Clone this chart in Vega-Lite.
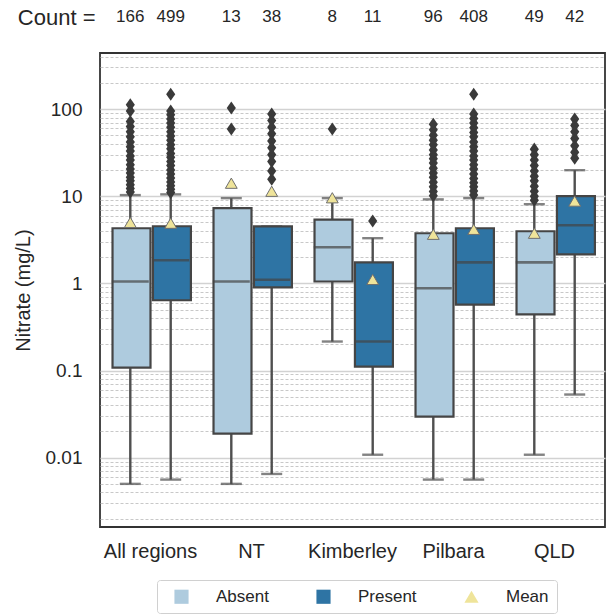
{
  "$schema": "https://vega.github.io/schema/vega-lite/v6.json",
  "padding": {"left": 12, "top": 6, "right": 0, "bottom": 0},
  "background": "white",
  "config": {
    "font": "Liberation Sans",
    "view": {"stroke": "#333333", "strokeWidth": 1.8},
    "axis": {"labelFont": "Liberation Sans", "titleFont": "Liberation Sans", "labelColor": "#262626", "titleColor": "#262626", "labelFontSize": 19, "titleFontSize": 20, "titleFontWeight": "normal", "ticks": false, "domain": false},
    "legend": {"labelFont": "Liberation Sans", "labelFontSize": 17, "labelColor": "#262626", "orient": "none", "legendX": 57, "legendY": 573, "direction": "horizontal", "columns": 3, "strokeColor": "#d0d0d0", "cornerRadius": 3, "padding": 8, "symbolSize": 200, "symbolOffset": 8, "labelOffset": 26, "columnPadding": 38, "symbolStrokeWidth": 0}
  },
  "datasets": {
    "stats": [
      {"region": "All regions", "group": "Absent", "key": "Absent", "lo": 0.005, "q1": 0.108, "med": 1.05, "q3": 4.29, "hi": 10.3},
      {"region": "All regions", "group": "Present", "key": "Present", "lo": 0.0056, "q1": 0.64, "med": 1.84, "q3": 4.52, "hi": 10.5},
      {"region": "NT", "group": "Absent", "key": "Absent", "lo": 0.005, "q1": 0.0189, "med": 1.05, "q3": 7.3, "hi": 9.5},
      {"region": "NT", "group": "Present", "key": "Present", "lo": 0.0065, "q1": 0.9, "med": 1.1, "q3": 4.5, "hi": 4.5},
      {"region": "Kimberley", "group": "Absent", "key": "Absent", "lo": 0.215, "q1": 1.05, "med": 2.6, "q3": 5.4, "hi": 9.5},
      {"region": "Kimberley", "group": "Present", "key": "Present", "lo": 0.0108, "q1": 0.111, "med": 0.215, "q3": 1.74, "hi": 3.3},
      {"region": "Pilbara", "group": "Absent", "key": "Absent", "lo": 0.0056, "q1": 0.0296, "med": 0.88, "q3": 3.76, "hi": 9.2},
      {"region": "Pilbara", "group": "Present", "key": "Present", "lo": 0.0056, "q1": 0.57, "med": 1.74, "q3": 4.29, "hi": 9.5},
      {"region": "QLD", "group": "Absent", "key": "Absent", "lo": 0.0108, "q1": 0.44, "med": 1.74, "q3": 3.96, "hi": 8.1},
      {"region": "QLD", "group": "Present", "key": "Present", "lo": 0.053, "q1": 2.15, "med": 4.64, "q3": 10, "hi": 19.9}
    ],
    "means": [
      {"region": "All regions", "group": "Absent", "key": "Mean", "mean": 5.0},
      {"region": "All regions", "group": "Present", "key": "Mean", "mean": 4.9},
      {"region": "NT", "group": "Absent", "key": "Mean", "mean": 14.1},
      {"region": "NT", "group": "Present", "key": "Mean", "mean": 11.4},
      {"region": "Kimberley", "group": "Absent", "key": "Mean", "mean": 9.6},
      {"region": "Kimberley", "group": "Present", "key": "Mean", "mean": 1.11},
      {"region": "Pilbara", "group": "Absent", "key": "Mean", "mean": 3.66},
      {"region": "Pilbara", "group": "Present", "key": "Mean", "mean": 4.17},
      {"region": "QLD", "group": "Absent", "key": "Mean", "mean": 3.76},
      {"region": "QLD", "group": "Present", "key": "Mean", "mean": 8.8}
    ],
    "counts": [
      {"region": "All regions", "group": "Absent", "row": "Count =", "n": 166},
      {"region": "All regions", "group": "Present", "row": "Count =", "n": 499},
      {"region": "NT", "group": "Absent", "row": "Count =", "n": 13},
      {"region": "NT", "group": "Present", "row": "Count =", "n": 38},
      {"region": "Kimberley", "group": "Absent", "row": "Count =", "n": 8},
      {"region": "Kimberley", "group": "Present", "row": "Count =", "n": 11},
      {"region": "Pilbara", "group": "Absent", "row": "Count =", "n": 96},
      {"region": "Pilbara", "group": "Present", "row": "Count =", "n": 408},
      {"region": "QLD", "group": "Absent", "row": "Count =", "n": 49},
      {"region": "QLD", "group": "Present", "row": "Count =", "n": 42}
    ],
    "outliers": [
      {"region": "All regions", "group": "Absent", "v": 112}, {"region": "All regions", "group": "Absent", "v": 95}, {"region": "All regions", "group": "Absent", "v": 72}, {"region": "All regions", "group": "Absent", "v": 63}, {"region": "All regions", "group": "Absent", "v": 55}, {"region": "All regions", "group": "Absent", "v": 48}, {"region": "All regions", "group": "Absent", "v": 42}, {"region": "All regions", "group": "Absent", "v": 37}, {"region": "All regions", "group": "Absent", "v": 33}, {"region": "All regions", "group": "Absent", "v": 29}, {"region": "All regions", "group": "Absent", "v": 26}, {"region": "All regions", "group": "Absent", "v": 23}, {"region": "All regions", "group": "Absent", "v": 20.5}, {"region": "All regions", "group": "Absent", "v": 18.5}, {"region": "All regions", "group": "Absent", "v": 16.5}, {"region": "All regions", "group": "Absent", "v": 15}, {"region": "All regions", "group": "Absent", "v": 13.5}, {"region": "All regions", "group": "Absent", "v": 12.3}, {"region": "All regions", "group": "Absent", "v": 11.2},
      {"region": "All regions", "group": "Present", "v": 148}, {"region": "All regions", "group": "Present", "v": 95}, {"region": "All regions", "group": "Present", "v": 86}, {"region": "All regions", "group": "Present", "v": 77}, {"region": "All regions", "group": "Present", "v": 69}, {"region": "All regions", "group": "Present", "v": 62}, {"region": "All regions", "group": "Present", "v": 55}, {"region": "All regions", "group": "Present", "v": 49}, {"region": "All regions", "group": "Present", "v": 44}, {"region": "All regions", "group": "Present", "v": 39}, {"region": "All regions", "group": "Present", "v": 35}, {"region": "All regions", "group": "Present", "v": 31}, {"region": "All regions", "group": "Present", "v": 28}, {"region": "All regions", "group": "Present", "v": 25}, {"region": "All regions", "group": "Present", "v": 22.5}, {"region": "All regions", "group": "Present", "v": 20}, {"region": "All regions", "group": "Present", "v": 18}, {"region": "All regions", "group": "Present", "v": 16.2}, {"region": "All regions", "group": "Present", "v": 14.6}, {"region": "All regions", "group": "Present", "v": 13.2}, {"region": "All regions", "group": "Present", "v": 12}, {"region": "All regions", "group": "Present", "v": 11},
      {"region": "NT", "group": "Absent", "v": 103}, {"region": "NT", "group": "Absent", "v": 59},
      {"region": "NT", "group": "Present", "v": 88}, {"region": "NT", "group": "Present", "v": 74}, {"region": "NT", "group": "Present", "v": 62}, {"region": "NT", "group": "Present", "v": 52}, {"region": "NT", "group": "Present", "v": 43}, {"region": "NT", "group": "Present", "v": 36}, {"region": "NT", "group": "Present", "v": 30}, {"region": "NT", "group": "Present", "v": 25}, {"region": "NT", "group": "Present", "v": 19.5}, {"region": "NT", "group": "Present", "v": 15.7},
      {"region": "Kimberley", "group": "Absent", "v": 59},
      {"region": "Kimberley", "group": "Present", "v": 5.2},
      {"region": "Pilbara", "group": "Absent", "v": 67}, {"region": "Pilbara", "group": "Absent", "v": 58}, {"region": "Pilbara", "group": "Absent", "v": 50}, {"region": "Pilbara", "group": "Absent", "v": 44}, {"region": "Pilbara", "group": "Absent", "v": 39}, {"region": "Pilbara", "group": "Absent", "v": 34}, {"region": "Pilbara", "group": "Absent", "v": 30}, {"region": "Pilbara", "group": "Absent", "v": 27}, {"region": "Pilbara", "group": "Absent", "v": 24}, {"region": "Pilbara", "group": "Absent", "v": 21}, {"region": "Pilbara", "group": "Absent", "v": 18.5}, {"region": "Pilbara", "group": "Absent", "v": 16.5}, {"region": "Pilbara", "group": "Absent", "v": 14.5}, {"region": "Pilbara", "group": "Absent", "v": 12.8}, {"region": "Pilbara", "group": "Absent", "v": 11.3}, {"region": "Pilbara", "group": "Absent", "v": 10.1},
      {"region": "Pilbara", "group": "Present", "v": 148}, {"region": "Pilbara", "group": "Present", "v": 88}, {"region": "Pilbara", "group": "Present", "v": 78}, {"region": "Pilbara", "group": "Present", "v": 69}, {"region": "Pilbara", "group": "Present", "v": 61}, {"region": "Pilbara", "group": "Present", "v": 54}, {"region": "Pilbara", "group": "Present", "v": 48}, {"region": "Pilbara", "group": "Present", "v": 42}, {"region": "Pilbara", "group": "Present", "v": 37}, {"region": "Pilbara", "group": "Present", "v": 33}, {"region": "Pilbara", "group": "Present", "v": 29}, {"region": "Pilbara", "group": "Present", "v": 26}, {"region": "Pilbara", "group": "Present", "v": 23}, {"region": "Pilbara", "group": "Present", "v": 20.5}, {"region": "Pilbara", "group": "Present", "v": 18}, {"region": "Pilbara", "group": "Present", "v": 16}, {"region": "Pilbara", "group": "Present", "v": 14.3}, {"region": "Pilbara", "group": "Present", "v": 12.8}, {"region": "Pilbara", "group": "Present", "v": 11.5}, {"region": "Pilbara", "group": "Present", "v": 10.3},
      {"region": "QLD", "group": "Absent", "v": 34.7}, {"region": "QLD", "group": "Absent", "v": 30}, {"region": "QLD", "group": "Absent", "v": 26}, {"region": "QLD", "group": "Absent", "v": 22.5}, {"region": "QLD", "group": "Absent", "v": 19.5}, {"region": "QLD", "group": "Absent", "v": 17}, {"region": "QLD", "group": "Absent", "v": 15}, {"region": "QLD", "group": "Absent", "v": 13}, {"region": "QLD", "group": "Absent", "v": 11.4}, {"region": "QLD", "group": "Absent", "v": 10}, {"region": "QLD", "group": "Absent", "v": 9},
      {"region": "QLD", "group": "Present", "v": 76.7}, {"region": "QLD", "group": "Present", "v": 65}, {"region": "QLD", "group": "Present", "v": 55}, {"region": "QLD", "group": "Present", "v": 46}, {"region": "QLD", "group": "Present", "v": 38}, {"region": "QLD", "group": "Present", "v": 32}, {"region": "QLD", "group": "Present", "v": 27.3}
    ]
  },
  "spacing": 18,
  "vconcat": [
    {
      "width": 505,
      "height": 20,
      "view": {"stroke": null},
      "data": {"name": "counts"},
      "mark": {"type": "text", "fontSize": 17, "color": "#262626", "font": "Liberation Sans"},
      "encoding": {
        "x": {"field": "region", "type": "nominal", "sort": ["All regions", "NT", "Kimberley", "Pilbara", "QLD"], "scale": {"domain": ["All regions", "NT", "Kimberley", "Pilbara", "QLD"], "paddingInner": 0.2, "paddingOuter": 0.1}, "axis": null},
        "xOffset": {"field": "group", "type": "nominal", "scale": {"domain": ["Absent", "Present"]}},
        "y": {"field": "row", "type": "nominal", "axis": {"title": null, "labelPadding": 5, "labelFontSize": 22, "grid": false}},
        "text": {"field": "n", "type": "quantitative"}
      }
    },
    {
      "width": 505,
      "height": 474,
      "encoding": {
        "x": {"field": "region", "type": "nominal", "sort": ["All regions", "NT", "Kimberley", "Pilbara", "QLD"], "scale": {"domain": ["All regions", "NT", "Kimberley", "Pilbara", "QLD"], "paddingInner": 0.2, "paddingOuter": 0.1}, "axis": {"title": null, "labelAngle": 0, "labelPadding": 14, "labelFontSize": 20, "grid": false}},
        "xOffset": {"field": "group", "type": "nominal", "scale": {"domain": ["Absent", "Present"]}}
      },
      "layer": [
        {
          "data": {"name": "stats"},
          "mark": {"type": "rule", "color": "#4f4f4f", "strokeWidth": 2.4},
          "encoding": {
            "y": {"field": "lo", "type": "quantitative", "scale": {"type": "log", "domain": [0.0016, 440], "nice": false},
              "axis": {"title": "Nitrate (mg/L)", "titlePadding": 12, "labelPadding": 18, "labelOverlap": false,
                "values": [0.002,0.003,0.004,0.005,0.006,0.007,0.008,0.009,0.01,0.02,0.03,0.04,0.05,0.06,0.07,0.08,0.09,0.1,0.2,0.3,0.4,0.5,0.6,0.7,0.8,0.9,1,2,3,4,5,6,7,8,9,10,20,30,40,50,60,70,80,90,100,200,300,400],
                "labelExpr": "indexof([0.01,0.1,1,10,100], datum.value) >= 0 ? format(datum.value, '~g') : ''",
                "grid": true,
                "gridDash": {"condition": {"test": "indexof([0.01,0.1,1,10,100], datum.value) >= 0", "value": []}, "value": [3, 2]},
                "gridColor": {"condition": {"test": "indexof([0.01,0.1,1,10,100], datum.value) >= 0", "value": "#d2d2d2"}, "value": "#c2c2c2"},
                "gridWidth": {"condition": {"test": "indexof([0.01,0.1,1,10,100], datum.value) >= 0", "value": 1.6}, "value": 0.9}
              }},
            "y2": {"field": "hi"}
          }
        },
        {
          "data": {"name": "stats"},
          "mark": {"type": "tick", "color": "#4f4f4f", "thickness": 2.4, "size": 21},
          "encoding": {"y": {"field": "lo", "type": "quantitative"}}
        },
        {
          "data": {"name": "stats"},
          "mark": {"type": "tick", "color": "#4f4f4f", "thickness": 2.4, "size": 21},
          "encoding": {"y": {"field": "hi", "type": "quantitative"}}
        },
        {
          "data": {"name": "stats"},
          "mark": {"type": "bar", "stroke": "#454545", "strokeWidth": 2.2, "width": {"band": 0.94}},
          "encoding": {
            "y": {"field": "q1", "type": "quantitative"},
            "y2": {"field": "q3"},
            "fill": {"field": "key", "type": "nominal", "scale": {"domain": ["Absent", "Present", "Mean"], "range": ["#aecbde", "#2e74a4", "#efe49a"]}, "legend": {"title": null}}
          }
        },
        {
          "data": {"name": "stats"},
          "mark": {"type": "tick", "color": "#454545", "thickness": 2.6, "size": 37},
          "encoding": {"y": {"field": "med", "type": "quantitative"}}
        },
        {
          "data": {"name": "outliers"},
          "mark": {"type": "point", "shape": "M0,-1L0.7,0L0,1L-0.7,0Z", "filled": true, "fill": "#3a3a3a", "opacity": 1, "size": 170, "strokeWidth": 0},
          "encoding": {"y": {"field": "v", "type": "quantitative"}}
        },
        {
          "data": {"name": "means"},
          "mark": {"type": "point", "filled": true, "opacity": 1, "size": 140, "stroke": "#6e6e6e", "strokeWidth": 1},
          "encoding": {
            "y": {"field": "mean", "type": "quantitative"},
            "fill": {"field": "key", "type": "nominal", "legend": {"title": null}},
            "shape": {"field": "key", "type": "nominal", "scale": {"domain": ["Absent", "Present", "Mean"], "range": ["square", "square", "triangle-up"]}, "legend": {"title": null}}
          }
        }
      ]
    }
  ]
}
